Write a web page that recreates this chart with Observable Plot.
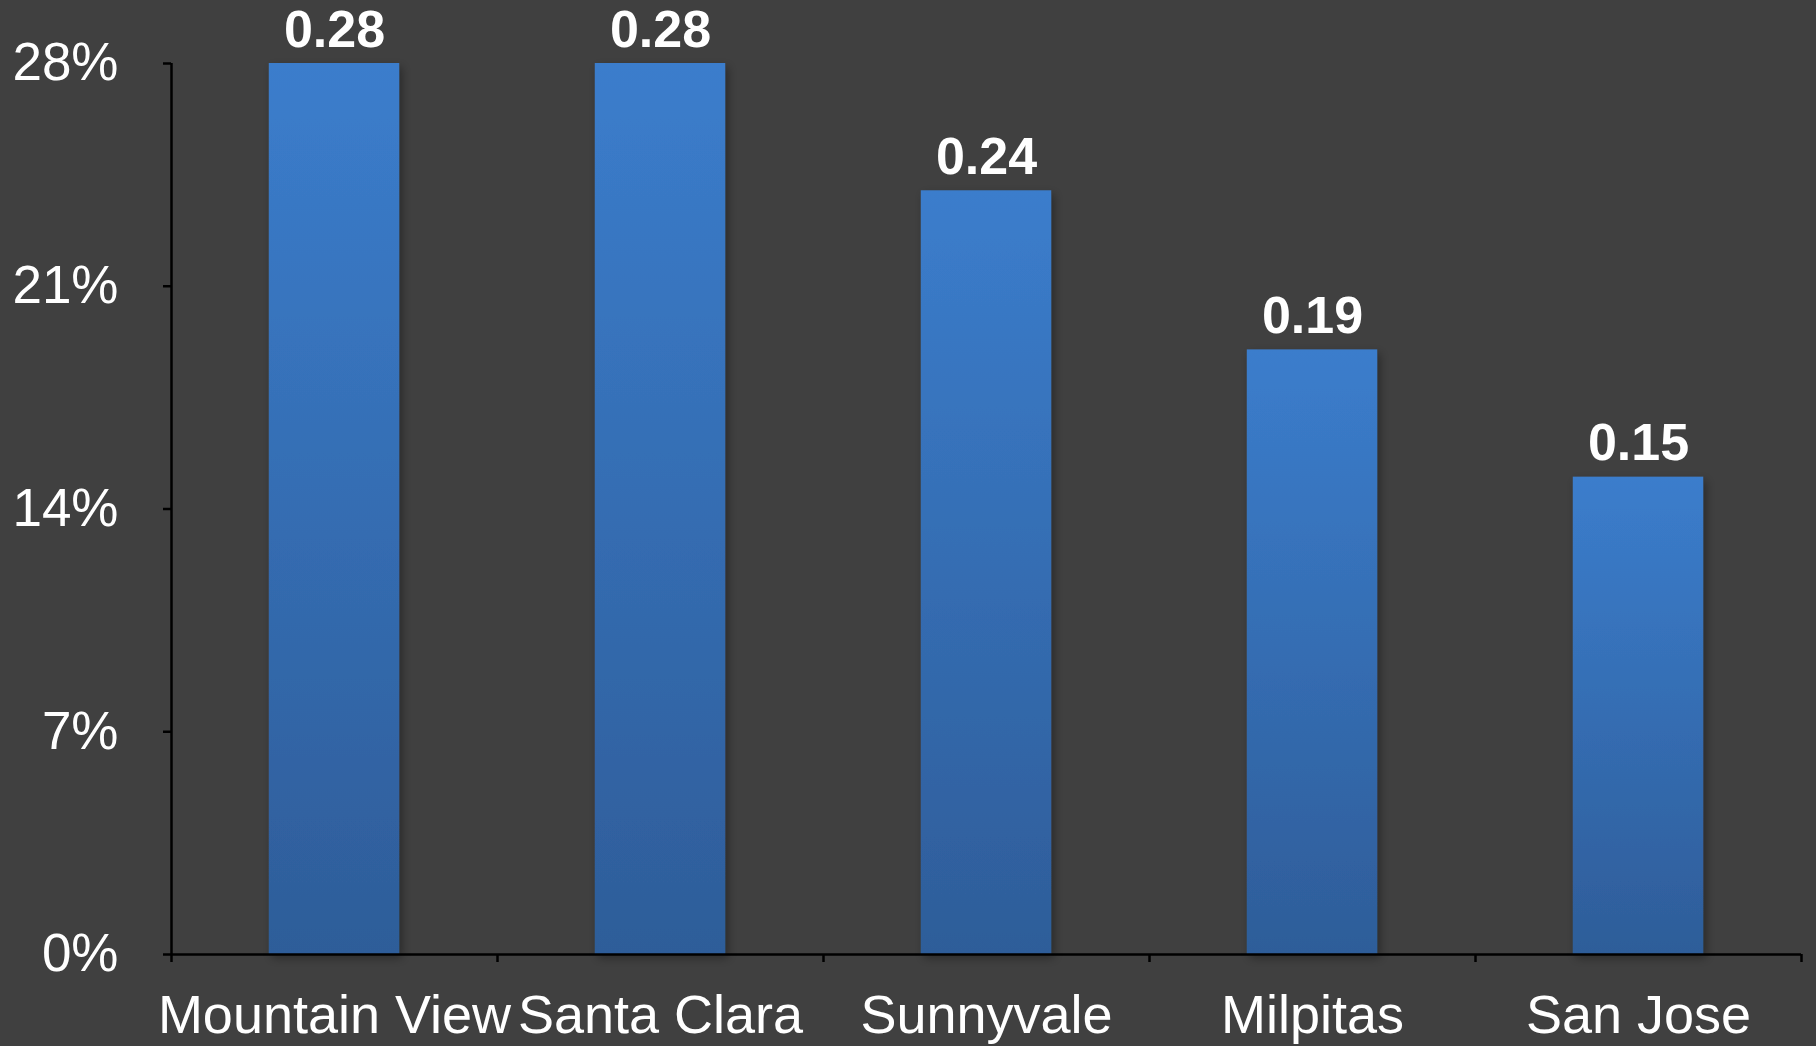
<!DOCTYPE html>
<html>
<head>
<meta charset="utf-8">
<script src="https://cdn.jsdelivr.net/npm/d3@7"></script>
<script src="https://cdn.jsdelivr.net/npm/@observablehq/plot@0.6"></script>
<style>
  html, body { margin: 0; padding: 0; background: #404040; overflow: hidden; }
  #chart svg { display: block; }
</style>
</head>
<body>
<div id="chart"></div>
<script>
// Share by city
const cities = ["Mountain View", "Santa Clara", "Sunnyvale", "Milpitas", "San Jose"];
const shares = [0.28, 0.28, 0.24, 0.19, 0.15];
const yTicks = [0, 0.07, 0.14, 0.21, 0.28];

const data = cities.map((city, i) => ({ city, share: shares[i], i }));

const W = 1816, H = 1046;
const marginLeft = 171, marginRight = 15;
const step = (W - marginLeft - marginRight) / cities.length;
const barInset = step * 0.3;
const font = "'Liberation Sans', Arial, Helvetica, sans-serif";
const axisColor = "#000";

const chart = Plot.plot({
  width: W,
  height: H,
  marginLeft,
  marginRight,
  marginTop: 63,
  marginBottom: 92,
  style: { background: "#404040", color: "#fff", fontFamily: font, fontSize: "52px" },
  x: { type: "linear", domain: [0, cities.length], axis: null },
  y: { domain: [0, 0.28], axis: null },
  marks: [
    Plot.rectY(data, {
      x1: d => d.i,
      x2: d => d.i + 1,
      y: "share",
      insetLeft: barInset,
      insetRight: barInset,
      fill: "url(#barGrad)"
    }),
    Plot.ruleY([0], { stroke: axisColor, strokeWidth: 2.5 }),
    Plot.ruleX([0], { stroke: axisColor, strokeWidth: 2.5 }),
    Plot.axisY({
      ticks: yTicks,
      tickFormat: d3.format(".0%"),
      tickSize: 8,
      tickPadding: 45,
      label: null,
      stroke: axisColor,
      strokeWidth: 2.5,
      fill: "#fff",
      fontSize: 53
    }),
    // category boundary ticks
    Plot.axisX({
      ticks: d3.range(cities.length + 1),
      tickSize: 8,
      tickFormat: () => "",
      label: null,
      stroke: axisColor,
      strokeWidth: 2.5
    }),
    // category names centred under each bar
    Plot.axisX({
      ticks: cities.map((_, i) => i + 0.5),
      tickFormat: d => cities[Math.floor(d)],
      tickSize: 0,
      tickPadding: 40,
      label: null,
      fill: "#fff",
      fontSize: 54
    }),
    Plot.text(data, {
      x: d => d.i + 0.5,
      y: "share",
      text: d => d3.format(".2f")(d.share),
      lineAnchor: "bottom",
      dy: -17,
      fill: "#fff",
      fontWeight: "bold",
      fontSize: 52
    })
  ]
});

// gradient and soft shadow for the bars
const svg = d3.select(chart);
const defs = svg.insert("defs", ":first-child");
const grad = defs.append("linearGradient")
  .attr("id", "barGrad")
  .attr("x1", 0).attr("y1", 0).attr("x2", 0).attr("y2", 1);
grad.append("stop").attr("offset", "0%").attr("stop-color", "#3b7dcc");
grad.append("stop").attr("offset", "100%").attr("stop-color", "#2e5d99");
const shadow = defs.append("filter")
  .attr("id", "barShadow")
  .attr("x", "-20%").attr("y", "-10%").attr("width", "140%").attr("height", "120%");
shadow.append("feDropShadow")
  .attr("dx", 3).attr("dy", 4).attr("stdDeviation", 5)
  .attr("flood-color", "#000").attr("flood-opacity", 0.35);
svg.select('g[aria-label="rect"]').attr("filter", "url(#barShadow)");

document.getElementById("chart").appendChild(chart);
</script>
</body>
</html>
